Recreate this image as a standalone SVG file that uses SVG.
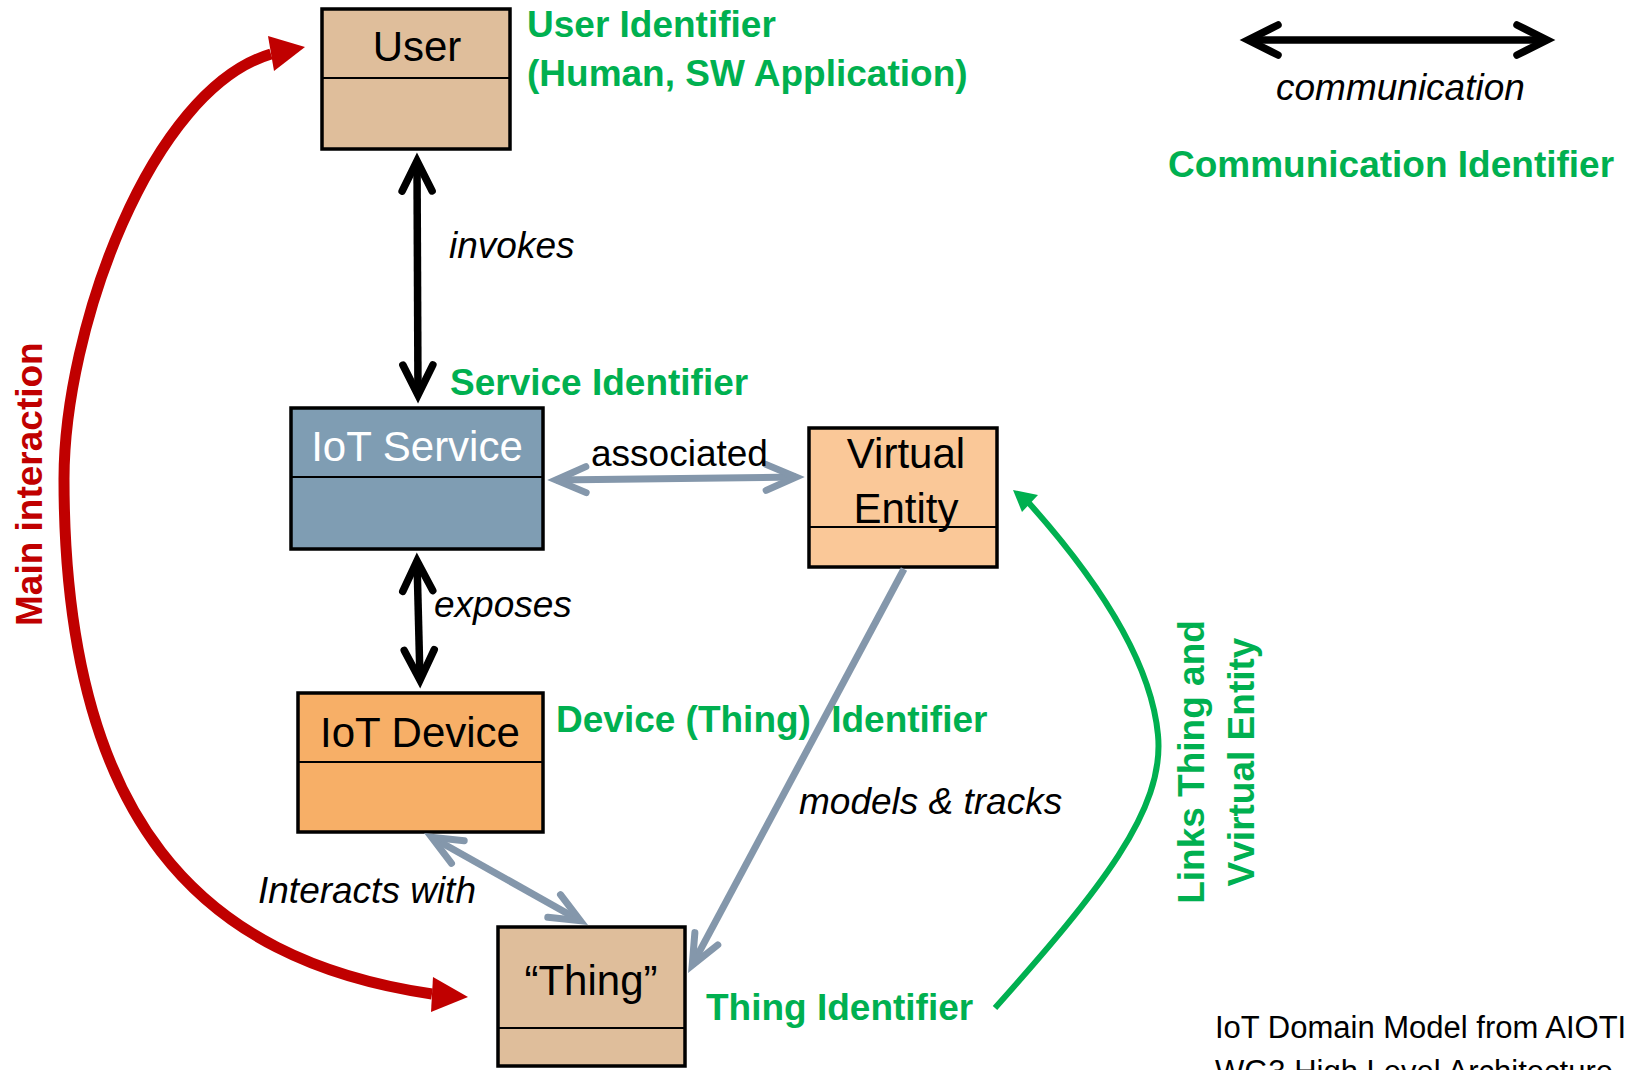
<svg xmlns="http://www.w3.org/2000/svg" width="1637" height="1070" viewBox="0 0 1637 1070">
<style>
text{font-family:"Liberation Sans",Arial,sans-serif}
.box{stroke:#000;stroke-width:3.5}
.div{stroke:#000;stroke-width:2}
.nl{font-size:42px;text-anchor:middle;fill:#000}
.gid{font-size:37px;font-weight:bold;fill:#00B050}
.it{font-size:37px;font-style:italic;fill:#000}
.blk{fill:none;stroke:#000;stroke-width:7.5;marker-start:url(#chevB);marker-end:url(#chevB)}
.gry{fill:none;stroke:#8497AB;stroke-width:7}
.red{fill:none;stroke:#C00000;stroke-width:11}
.grn{fill:none;stroke:#00B050;stroke-width:6}
</style>
<defs>
<marker id="chevB" markerUnits="userSpaceOnUse" orient="auto-start-reverse" viewBox="-40 -25 50 50" markerWidth="50" markerHeight="50" refX="0" refY="0" overflow="visible">
<path d="M-30,-15 L0,0 L-30,15" fill="none" stroke="#000" stroke-width="7.5" stroke-linecap="round" stroke-linejoin="miter"/>
</marker>
<marker id="chevG" markerUnits="userSpaceOnUse" orient="auto-start-reverse" viewBox="-40 -25 50 50" markerWidth="50" markerHeight="50" refX="0" refY="0" overflow="visible">
<path d="M-30,-13 L0,0 L-30,13" fill="none" stroke="#8497AB" stroke-width="7" stroke-linecap="round" stroke-linejoin="miter"/>
</marker>
</defs>
<rect width="1637" height="1070" fill="#fff"/>

<g id="user">
<rect class="box" x="322" y="9" width="188" height="140" fill="#DFBE9B"/>
<line class="div" x1="322" y1="78" x2="510" y2="78"/>
<text class="nl" x="417" y="61">User</text>
</g>
<g id="iot-service">
<rect class="box" x="291" y="408" width="252" height="141" fill="#7F9DB3"/>
<line class="div" x1="291" y1="477" x2="543" y2="477"/>
<text class="nl" x="417" y="461" style="fill:#fff">IoT Service</text>
</g>
<g id="virtual-entity">
<rect class="box" x="809" y="428" width="188" height="139" fill="#FAC898"/>
<line class="div" x1="809" y1="527" x2="997" y2="527"/>
<text class="nl" x="906" y="468">Virtual</text>
<text class="nl" x="906" y="523">Entity</text>
</g>
<g id="iot-device">
<rect class="box" x="298" y="693" width="245" height="139" fill="#F7AF67"/>
<line class="div" x1="298" y1="762" x2="543" y2="762"/>
<text class="nl" x="420" y="747">IoT Device</text>
</g>
<g id="thing">
<rect class="box" x="498" y="927" width="187" height="139" fill="#DFBE9B"/>
<line class="div" x1="498" y1="1028" x2="685" y2="1028"/>
<text class="nl" x="591" y="995">“Thing”</text>
</g>

<g id="connectors">
<path class="blk" d="M417,161 L418,395"/>
<path class="blk" d="M417,561 L420,680"/>
<path class="blk" d="M1248,40 L1547,40"/>
<path class="gry" d="M556,480 L796,477" marker-start="url(#chevG)" marker-end="url(#chevG)"/>
<path class="gry" d="M431.7,837.3 L580.3,920.7" marker-start="url(#chevG)" marker-end="url(#chevG)"/>
<path class="gry" d="M904,569 L692.2,965.2" marker-end="url(#chevG)"/>
<path class="red" d="M432,994 C200,960 64,820 64,479 C64,330 150,90 271,54"/>
<polygon points="305,47 268,36 274,71" fill="#C00000"/>
<polygon points="468,997 433,977 431,1012" fill="#C00000"/>
<path class="grn" d="M995,1008 C1100,890 1165,810 1158,735 C1150,650 1080,560 1028,502"/>
<polygon points="1013,490 1022,512 1038,495" fill="#00B050"/>
</g>

<g id="labels">
<text class="gid" x="527" y="37">User Identifier</text>
<text class="gid" x="527" y="86">(Human, SW Application)</text>
<text class="it" x="1276" y="100">communication</text>
<text class="gid" x="1168" y="177">Communication Identifier</text>
<text class="it" x="449" y="258">invokes</text>
<text class="gid" x="450" y="395">Service Identifier</text>
<text x="591" y="466" style="font-size:37px;fill:#000">associated</text>
<text class="it" x="434" y="617">exposes</text>
<text class="gid" x="556" y="732">Device (Thing) <tspan dx="10">Identifier</tspan></text>
<text class="it" x="799" y="814">models &amp; tracks</text>
<text class="it" x="258" y="903">Interacts with</text>
<text class="gid" x="706" y="1020">Thing Identifier</text>
<text class="gid" transform="translate(42,626) rotate(-90)" style="fill:#C00000">Main interaction</text>
<text class="gid" transform="translate(1204,762) rotate(-90)" text-anchor="middle">Links Thing and</text>
<text class="gid" transform="translate(1254,762) rotate(-90)" text-anchor="middle">Vvirtual Entity</text>
<text x="1215" y="1038" style="font-size:31px;fill:#000">IoT Domain Model from AIOTI</text>
<text x="1215" y="1082" style="font-size:31px;fill:#000">WG3 High Level Architecture</text>
</g>
</svg>
